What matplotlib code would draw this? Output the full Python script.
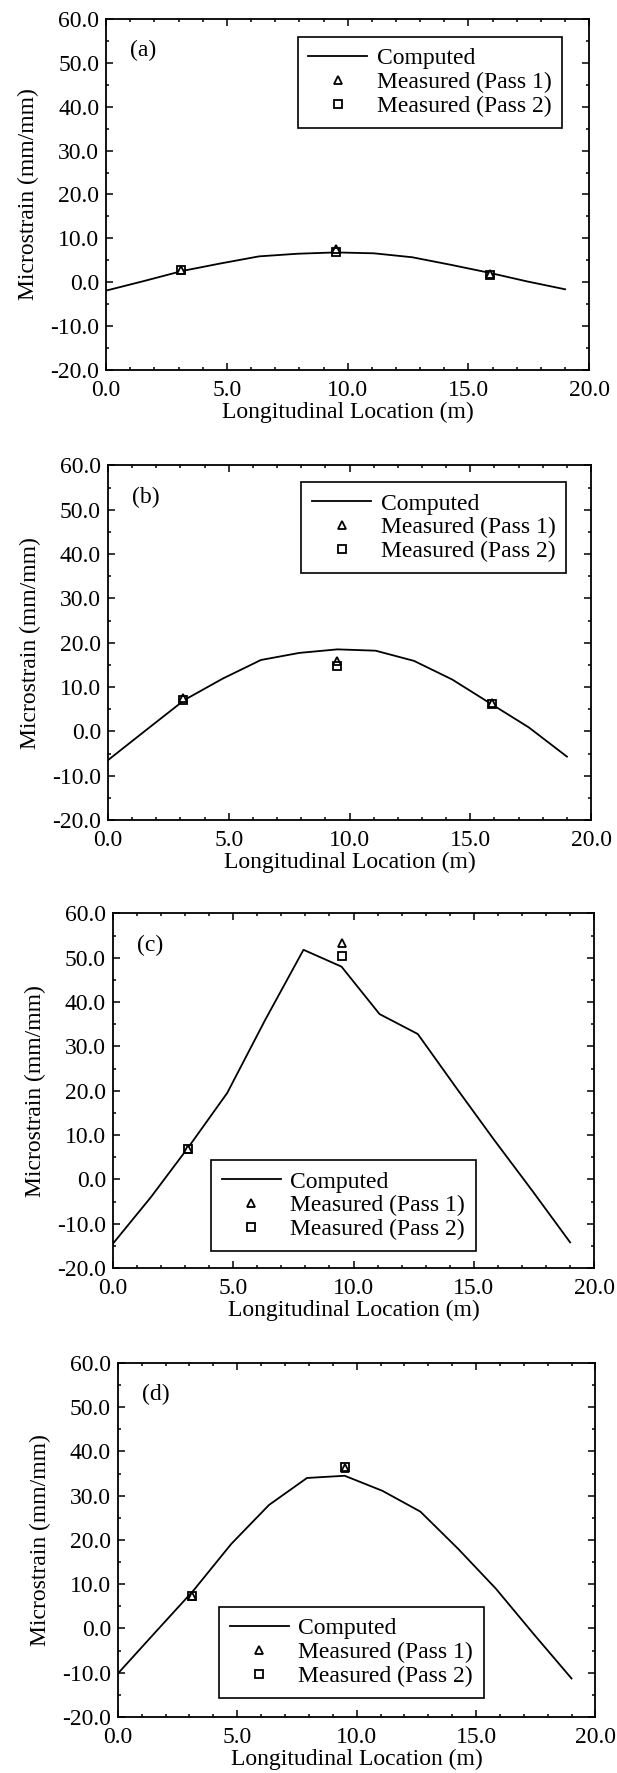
import matplotlib
matplotlib.use("Agg")
import matplotlib.pyplot as plt
from matplotlib.ticker import MultipleLocator, FormatStrFormatter

plt.rcParams['font.family'] = ['Liberation Serif', 'DejaVu Serif']
plt.rcParams['axes.unicode_minus'] = False
plt.rcParams['font.size'] = 17

# computed strain along the slab (same nodes for every case)
x_nodes = [0.0, 1.58, 3.17, 4.75, 6.33, 7.92, 9.5, 11.08, 12.67, 14.25, 15.83, 17.42, 19.0]
comp_a = [-1.9, 0.3, 2.6, 4.3, 5.9, 6.5, 6.8, 6.6, 5.7, 4.0, 2.2, 0.2, -1.6]
comp_b = [-6.5, 0.3, 7.1, 11.9, 16.1, 17.7, 18.5, 18.2, 15.9, 11.7, 6.3, 0.9, -5.7]
comp_c = [-14.5, -4.0, 7.5, 19.5, 36.0, 51.8, 48.0, 37.3, 32.8, 20.8, 9.0, -2.5, -14.2]
comp_d = [-10.2, -0.8, 8.6, 19.1, 27.9, 34.0, 34.5, 31.1, 26.4, 18.0, 9.0, -1.3, -11.3]

# measured gauges
x_meas3 = [3.1, 9.5, 15.9]
x_meas2 = [3.1, 9.5]
pass1_a = [2.9, 7.5, 1.9]
pass2_a = [2.8, 6.8, 1.6]
pass1_b = [7.6, 15.8, 6.3]
pass2_b = [7.1, 14.8, 6.1]
pass1_c = [6.9, 53.3]
pass2_c = [6.8, 50.5]
pass1_d = [7.4, 36.3]
pass2_d = [7.3, 36.5]

panels = [
    ('(a)', comp_a, x_meas3, pass1_a, pass2_a, [0.172, 0.7913, 0.783, 0.198],
     dict(loc='upper right', bbox_to_anchor=(0.944, 0.948))),
    ('(b)', comp_b, x_meas3, pass1_b, pass2_b, [0.175, 0.5375, 0.783, 0.200],
     dict(loc='upper right', bbox_to_anchor=(0.948, 0.952))),
    ('(c)', comp_c, x_meas2, pass1_c, pass2_c, [0.183, 0.2848, 0.780, 0.200],
     dict(loc='lower left', bbox_to_anchor=(0.204, 0.048))),
    ('(d)', comp_d, x_meas2, pass1_d, pass2_d, [0.191, 0.0316, 0.774, 0.1997],
     dict(loc='lower left', bbox_to_anchor=(0.212, 0.054))),
]

fig = plt.figure(figsize=(6.17, 17.73), dpi=100)

for tag, comp, xm, p1, p2, pos, leg in panels:
    ax = fig.add_axes(pos)
    ax.plot(x_nodes, comp, color='black', lw=1.3, label='Computed')
    ax.plot(xm, p1, linestyle='none', marker='^', ms=6, mfc='white',
            mec='black', mew=1.3, label='Measured (Pass 1)')
    ax.plot(xm, p2, linestyle='none', marker='s', ms=6, mfc='none',
            mec='black', mew=1.3, label='Measured (Pass 2)')

    ax.set_xlim(0, 20)
    ax.set_ylim(-20, 60)
    ax.xaxis.set_major_locator(MultipleLocator(5))
    ax.xaxis.set_minor_locator(MultipleLocator(1))
    ax.yaxis.set_major_locator(MultipleLocator(10))
    ax.yaxis.set_minor_locator(MultipleLocator(5))
    ax.xaxis.set_major_formatter(FormatStrFormatter('%.1f'))
    ax.yaxis.set_major_formatter(FormatStrFormatter('%.1f'))
    ax.tick_params(which='both', direction='in', top=True, right=True,
                   labelsize=17, width=1.1)
    ax.tick_params(axis='x', which='both', pad=7)
    ax.tick_params(axis='y', which='both', pad=5)
    ax.tick_params(which='major', length=5)
    ax.tick_params(which='minor', length=2.5)
    for s in ax.spines.values():
        s.set_linewidth(1.3)

    ax.set_xlabel('Longitudinal Location (m)', fontsize=17, labelpad=1)
    ax.set_ylabel('Microstrain (mm/mm)', fontsize=17, labelpad=8)
    ax.text(0.05, 0.91, tag, transform=ax.transAxes, fontsize=17,
            ha='left', va='center')

    lg = ax.legend(fontsize=17, frameon=True, fancybox=False, framealpha=1,
                   edgecolor='black', handlelength=2.5, handletextpad=0.4,
                   borderpad=0.45, labelspacing=0.1, borderaxespad=0, **leg)
    lg.get_frame().set_linewidth(1.2)

fig.savefig('out.png', dpi=100)
